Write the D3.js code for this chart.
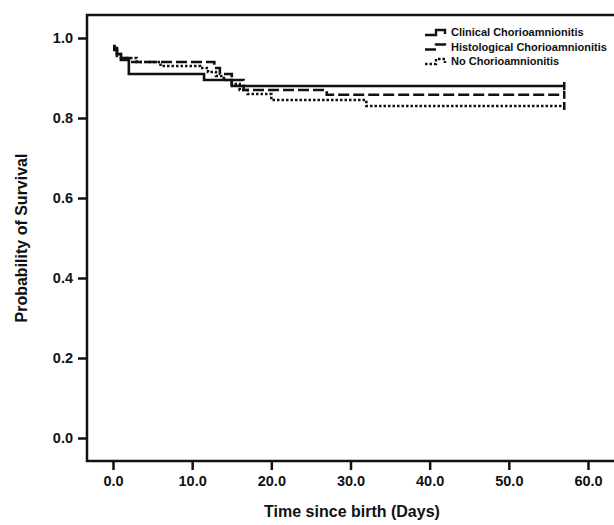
<!DOCTYPE html>
<html>
<head>
<meta charset="utf-8">
<script src="https://cdn.jsdelivr.net/npm/d3@7"></script>
<style>
  body { margin: 0; background: #fff; }
  text { font-family: "Liberation Sans", Arial, sans-serif; font-weight: bold; fill: #111; }
</style>
</head>
<body>
<div id="chart"></div>
<script>
// Kaplan-Meier step data (day, survival)
const clinicalTimes = [0, 0.2, 0.5, 1, 2, 11.5, 15, 57];
const clinicalSurv = [0.98, 0.975, 0.96, 0.95, 0.91, 0.895, 0.88, 0.88];
const histoTimes = [0, 0.5, 1, 2, 12.8, 13.5, 15, 16.5, 27, 57];
const histoSurv = [0.97, 0.955, 0.945, 0.94, 0.925, 0.91, 0.895, 0.87, 0.858, 0.858];
const noneTimes = [0, 0.5, 1, 3, 6, 11, 12, 13, 14, 15, 16, 17, 20, 32, 57];
const noneSurv = [0.975, 0.96, 0.95, 0.94, 0.93, 0.925, 0.915, 0.905, 0.895, 0.885, 0.87, 0.86, 0.845, 0.83, 0.83];
const seriesNames = ["Clinical Chorioamnionitis", "Histological Chorioamnionitis", "No Chorioamnionitis"];
const xTicks = [0, 10, 20, 30, 40, 50, 60];
const yTicks = [0, 0.2, 0.4, 0.6, 0.8, 1.0];

const width = 614, height = 525;
const svg = d3.select("#chart").append("svg")
    .attr("width", width)
    .attr("height", height);

let x = d3.scaleLinear().domain([0, 60]).range([113, 588]);
let y = d3.scaleLinear().domain([0, 1]).range([438, 38]);

const frame = {left: 87, top: 15, bottom: 461, right: 622};

// axes
let yAxis = svg.append("g")
    .attr("transform", "translate(" + frame.left + ",0)")
    .call(d3.axisLeft(y).tickValues(yTicks).tickFormat(d3.format(".1f")).tickSize(9).tickSizeOuter(0).tickPadding(5));
let xAxis = svg.append("g")
    .attr("transform", "translate(0," + frame.bottom + ")")
    .call(d3.axisBottom(x).tickValues(xTicks).tickFormat(d3.format(".1f")).tickSize(9).tickSizeOuter(0).tickPadding(6));

[yAxis, xAxis].forEach((g) => {
  g.select(".domain").remove();
  g.selectAll("line").attr("stroke", "#111").attr("stroke-width", 2.5);
  g.selectAll("text").style("font-size", "14.5px").attr("fill", "#111")
    .style("font-family", "'Liberation Sans', Arial, sans-serif").style("font-weight", "bold");
});

// frame
svg.append("rect")
    .attr("x", frame.left).attr("y", frame.top)
    .attr("width", frame.right - frame.left).attr("height", frame.bottom - frame.top)
    .attr("fill", "none").attr("stroke", "#111").attr("stroke-width", 2.5);

// curves
const series = [
  {t: clinicalTimes, s: clinicalSurv, dash: null},
  {t: histoTimes, s: histoSurv, dash: "11,4"},
  {t: noneTimes, s: noneSurv, dash: "2.5,2"}
];

let line = d3.line()
    .x((d) => x(d[0]))
    .y((d) => y(d[1]))
    .curve(d3.curveStepAfter);

series.forEach((ser) => {
  let pts = ser.t.map((t, i) => [t, ser.s[i]]);
  svg.append("path")
      .attr("d", line(pts))
      .attr("fill", "none")
      .attr("stroke", "#111")
      .attr("stroke-width", 2.6)
      .attr("stroke-dasharray", ser.dash);
  // censor mark at end
  let last = pts[pts.length - 1];
  svg.append("line")
      .attr("x1", x(last[0])).attr("x2", x(last[0]))
      .attr("y1", y(last[1]) - 4).attr("y2", y(last[1]) + 4)
      .attr("stroke", "#111").attr("stroke-width", 2.5);
});

// legend
let legend = svg.append("g").attr("transform", "translate(425,28)");
seriesNames.forEach((name, i) => {
  let g = legend.append("g").attr("transform", "translate(0," + (i * 14.5) + ")");
  g.append("path")
      .attr("d", "M0,7 H11 V2 H20 V6")
      .attr("fill", "none")
      .attr("stroke", "#111")
      .attr("stroke-width", 2.4)
      .attr("stroke-dasharray", series[i].dash);
  g.append("text")
      .attr("x", 26).attr("y", 8)
      .style("font-size", "11px")
      .text(name);
});

// axis titles
svg.append("text")
    .attr("x", 352).attr("y", 517)
    .attr("text-anchor", "middle")
    .style("font-size", "16px")
    .text("Time since birth (Days)");

svg.append("text")
    .attr("transform", "translate(27,238) rotate(-90)")
    .attr("text-anchor", "middle")
    .style("font-size", "16px")
    .text("Probability of Survival");
</script>
</body>
</html>
